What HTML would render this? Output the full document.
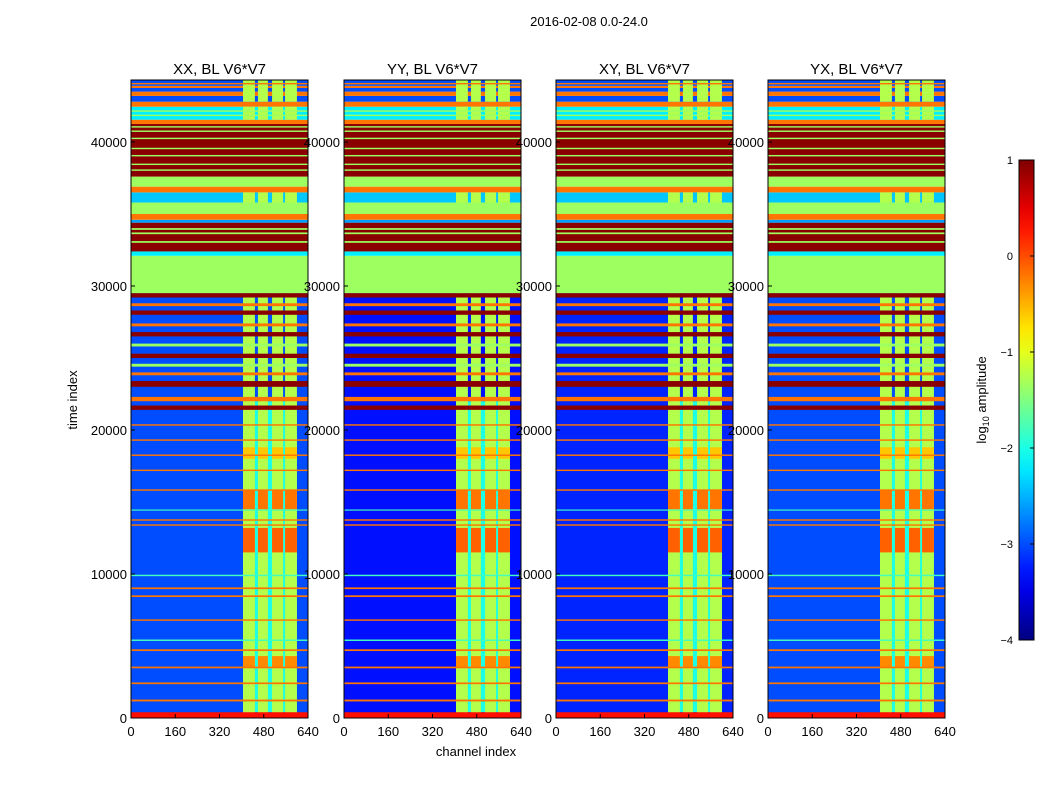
<!DOCTYPE html>
<html><head><meta charset="utf-8"><style>
body{margin:0;background:#fff;}
svg text{font-family:"Liberation Sans",sans-serif;}
</style></head><body>
<svg id="fig" width="1050" height="800" xmlns="http://www.w3.org/2000/svg">
<text x="589" y="26" font-size="13" text-anchor="middle">2016-02-08 0.0-24.0</text>
<text transform="translate(77,400) rotate(-90)" font-size="13" text-anchor="middle">time index</text>
<text x="476" y="756" font-size="13" text-anchor="middle">channel index</text>
<g id="panels"></g>
<g id="cbar"></g>
</svg>
<script>
const panelTitles=["XX, BL V6*V7","YY, BL V6*V7","XY, BL V6*V7","YX, BL V6*V7"];
const panelLeft=[131,344,556,768];
const xTicks=[0,160,320,480,640];
const yTicks=[0,10000,20000,30000,40000];
const lowerBase=[-3.0,-3.3,-3.2,-3.0];
// background bands [t0,t1,log10 amp]
const bands=[[29500,32100,-1.35],[32100,32400,-2.2],[32400,34400,0.95],[34400,34600,-2.6],[34600,35000,-0.2],[35000,35800,-1.35],[35800,36500,-2.4],[36500,36900,-0.2],[36900,37600,-1.35],[37600,41250,0.95],[41250,41550,-0.2],[41550,42450,-2.2],[42450,42800,-0.2],[42800,43200,-3.0],[43200,43500,-0.2],[43500,43750,-3.0],[43750,43900,-0.2],[43900,44300,-3.0]];
// channel columns [c0,c1]
const columns=[[405,448],[459,495],[510,550],[557,600]];
const colValue=-1.25, gapValue=-2.0;
const colRanges=[[0,29500],[35800,36500],[41550,42450],[42800,44300]];
const hotSpots=[[3500,4300,-0.3],[11500,13200,-0.1],[14500,15800,-0.2],[18000,18800,-0.6]];
// lines drawn on top [t0,t1,value]
const lines=[[0,400,0.3],[1150,1280,-0.2],[2350,2470,-0.2],[3450,3570,-0.2],[4650,4770,-0.2],[5350,5450,-1.8],[6750,6850,-0.2],[8400,8520,-0.2],[8950,9070,-0.2],[9850,9950,-1.8],[13350,13450,-0.2],[13700,13800,-0.2],[14400,14480,-1.8],[15780,15880,-0.2],[17150,17250,-0.2],[18200,18300,-0.2],[19250,19350,-0.2],[20300,20400,-0.2],[21400,21700,0.95],[22000,22300,-0.2],[23000,23400,0.95],[23800,24000,-0.2],[24400,24600,-1.35],[25000,25300,0.95],[25800,26000,-1.35],[26500,26800,0.95],[27200,27400,-0.2],[28000,28300,0.95],[28600,28800,-0.2],[29200,29500,0.95],[33000,33120,-1.35],[33600,33720,-1.35],[33900,34020,-1.35],[38000,38100,-1.35],[38400,38500,-1.35],[39000,39100,-1.35],[39500,39600,-1.35],[40200,40300,-1.35],[40700,40800,-1.35],[41000,41100,-1.35],[41800,41900,-1.35],[42100,42200,-1.35],[44000,44100,-0.2]];
const cbTicks=[1,0,-1,-2,-3,-4];

const tMax=44306, pw=177, yTop=80, yBot=718;
function jet(v){let x=(v+4)/5;x=Math.max(0,Math.min(1,x));
 const f=(a)=>Math.max(0,Math.min(1,1.5-Math.abs(4*x-a)));
 return `rgb(${Math.round(255*f(3))},${Math.round(255*f(2))},${Math.round(255*f(1))})`;}
const NS="http://www.w3.org/2000/svg";
function mk(tag,attrs,parent){const e=document.createElementNS(NS,tag);for(const k in attrs)e.setAttribute(k,attrs[k]);parent.appendChild(e);return e;}
const yS=t=>yBot-(t/tMax)*(yBot-yTop);
const panelsG=document.getElementById('panels');
panelTitles.forEach((title,p)=>{
 const x0=panelLeft[p];const xS=c=>x0+c/640*pw;
 const g=mk('g',{},panelsG);
 
 
 const rect=(c0,c1,t0,t1,v,name)=>{const r=mk('rect',{x:xS(c0),y:yS(t1),width:xS(c1)-xS(c0),height:Math.max(0.8,yS(t0)-yS(t1)),fill:jet(v)},g);
  
  };
 rect(0,640,0,29500,lowerBase[p],'background-band');
 bands.forEach(b=>rect(0,640,b[0],b[1],b[2],'band'));
 colRanges.forEach(r=>{
  if(r[0]===0) rect(columns[0][0],columns[columns.length-1][1],400,22000,gapValue,'column-gap');
  columns.forEach(c=>rect(c[0],c[1],r[0],r[1],colValue,'channel-column'));
 });
 hotSpots.forEach(h=>columns.forEach(c=>rect(c[0],c[1],h[0],h[1],h[2],'column-hotspot')));
 lines.forEach(l=>rect(0,640,l[0],l[1],l[2],'time-line'));
 const fr=mk('rect',{x:x0,y:yTop,width:pw,height:yBot-yTop,fill:'none',stroke:'#000','stroke-width':1},g);
 
 
 const tt=mk('text',{x:x0+pw/2,y:74,'font-size':15,'text-anchor':'middle'},g);tt.textContent=title;
 
 
 xTicks.forEach(c=>{mk('line',{x1:xS(c),x2:xS(c),y1:yBot,y2:yBot-4,stroke:'#000'},g);
  const tx=mk('text',{x:xS(c),y:yBot+18,'font-size':13,'text-anchor':'middle'},g);tx.textContent=c;
  
  });
 yTicks.forEach(t=>{mk('line',{x1:x0,x2:x0+4,y1:yS(t),y2:yS(t),stroke:'#000'},g);
  const ty=mk('text',{x:x0-4,y:yS(t)+5,'font-size':13,'text-anchor':'end'},g);ty.textContent=t;
  
  });
});
// colorbar
const cb=document.getElementById('cbar');
const defs=mk('defs',{},cb);const lg=mk('linearGradient',{id:'jetg',x1:0,y1:1,x2:0,y2:0},defs);
for(let i=0;i<=20;i++){mk('stop',{offset:i/20,'stop-color':jet(-4+5*i/20)},lg);}
mk('rect',{x:1019,y:160,width:15,height:480,fill:'url(#jetg)',stroke:'#000'},cb);
const cbY=v=>160+(1-v)*96;
cbTicks.forEach(v=>{mk('line',{x1:1030,x2:1034,y1:cbY(v),y2:cbY(v),stroke:'#000'},cb);
 const t=mk('text',{x:1013,y:cbY(v)+4,'font-size':11,'text-anchor':'end'},cb);t.textContent=v<0?'\u2212'+(-v):v;
 
 });
const cl=mk('text',{transform:'translate(986,400) rotate(-90)','font-size':13,'text-anchor':'middle'},cb);
cl.innerHTML='log<tspan font-size="9" dy="3">10</tspan><tspan dy="-3"> amplitude</tspan>';


</script>
</body></html>
